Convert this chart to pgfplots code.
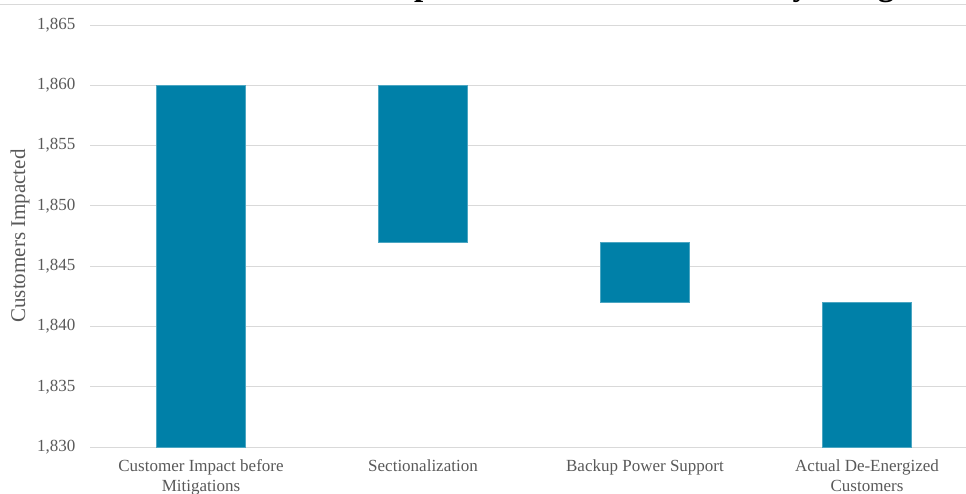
\documentclass[border=0pt]{standalone}
\usepackage{pgfplots}
\pgfplotsset{compat=1.18}
\usepackage{fontspec}
\setmainfont{Liberation Serif}
\definecolor{barblue}{RGB}{0,128,168}
\definecolor{labgray}{RGB}{89,89,89}
\definecolor{gridgray}{RGB}{217,217,217}

\begin{document}
\begin{tikzpicture}[x=1pt,y=1pt]
    % title, mostly cut off at the top like the reference
    \node[anchor=base, font=\bfseries\fontsize{33}{36}\selectfont] at (596,497)
        {Customer Impact Reduction Achieved by Mitigation};
    \draw[gridgray, line width=0.8pt] (0,489) -- (966,489);
    % y values are customers above 1,830 (the axis floor)
    \begin{axis}[
        at={(90pt,46pt)}, anchor=south west,
        scale only axis,
        width=888pt, height=422pt,
        ybar stacked,
        bar width=89pt,
        xmin=-0.5, xmax=3.5,
        ymin=0, ymax=35,
        xtick={0,1,2,3},
        xticklabels={{Customer Impact before\\Mitigations},{Sectionalization},{Backup Power Support},{Actual De-Energized\\Customers}},
        ytick={0,5,...,35},
        yticklabels={{1,830},{1,835},{1,840},{1,845},{1,850},{1,855},{1,860},{1,865}},
        major tick length=0pt,
        axis line style={draw=none},
        ymajorgrids,
        grid style={gridgray, line width=0.8pt},
        tick label style={font=\fontsize{17}{20}\selectfont, text=labgray},
        xticklabel style={align=center, yshift=-9pt},
        yticklabel style={xshift=-11pt},
        ylabel={Customers Impacted},
        ylabel style={at={(axis description cs:0,0.5)}, anchor=center, yshift=70pt, font=\fontsize{21}{24}\selectfont, text=labgray},
    ]
    % invisible base of each floating bar (1830, 1847, 1842, 1830)
    \addplot[draw=none, fill=none] coordinates {(0,0) (1,17) (2,12) (3,0)};
    % visible part: 1830-1860, 1847-1860, 1842-1847, 1830-1842
    \addplot[fill=barblue, draw=barblue!70!white, line width=0.5pt] coordinates {(0,30) (1,13) (2,5) (3,12)};
    \end{axis}
    \pgfresetboundingbox
    \useasboundingbox (0,0) rectangle (966,493);
\end{tikzpicture}
\end{document}
